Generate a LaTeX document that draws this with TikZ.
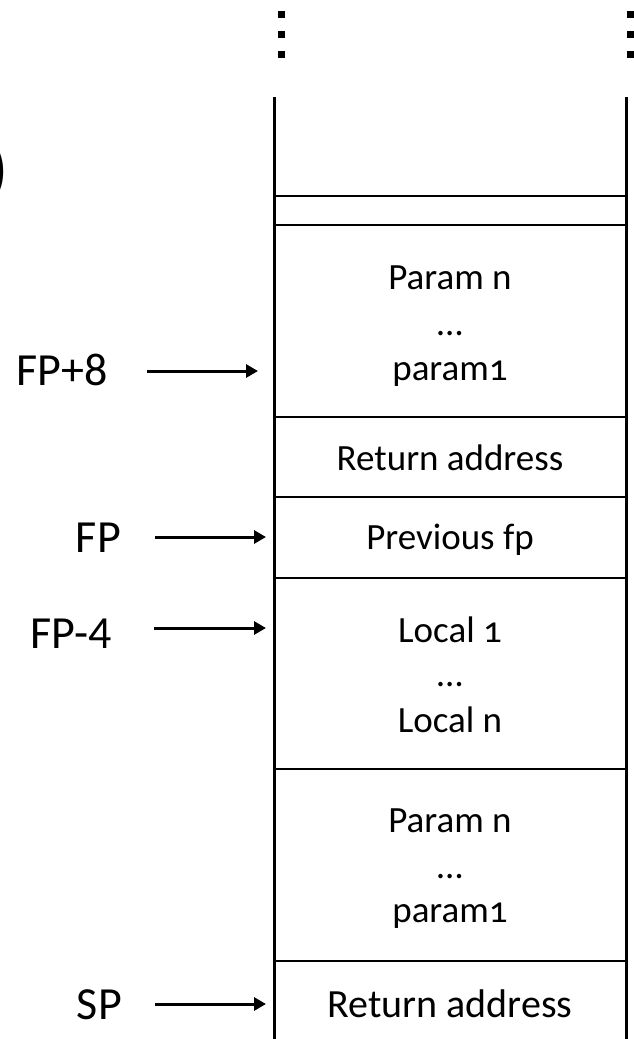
\documentclass[tikz,border=0pt]{standalone}
\usepackage{fontspec}
\setmainfont{Carlito}
\newfontfamily\cellfont[Numbers=OldStyle]{Carlito}
\usetikzlibrary{arrows.meta}
\begin{document}
\begin{tikzpicture}[x=1pt,y=-1pt,
  wall/.style={line width=3pt},
  sep/.style={line width=1.6pt},
  cell/.style={font=\cellfont\fontsize{37}{44}\selectfont, inner sep=0pt, anchor=base},
  bigcell/.style={font=\cellfont\fontsize{40}{48}\selectfont, inner sep=0pt, anchor=base},
  reg/.style={font=\fontsize{46}{50}\selectfont, inner sep=0pt, anchor=base east},
  ptr/.style={line width=3pt, -{Triangle[length=12pt,width=13pt]}},
  dotmark/.style={fill=black, draw=none, rectangle, minimum size=7pt, inner sep=0pt}]
\useasboundingbox (0,0) rectangle (634,1039);

% partial bracket at the left edge
\node[font=\fontsize{66}{66}\selectfont, inner sep=0pt, anchor=east] (paren) at (9,172) {)};

% continuation dots above the stack
\foreach \y [count=\i] in {14,34,54} {
  \node[dotmark] (dl\i) at (281,\y) {};
  \node[dotmark] (dr\i) at (630.5,\y) {};
}

% stack walls and cell separators
\coordinate (wlt) at (274,97);  \coordinate (wlb) at (274,1045);
\coordinate (wrt) at (626,97);  \coordinate (wrb) at (626,1045);
\draw[wall] (wlt) -- (wlb);
\draw[wall] (wrt) -- (wrb);
\foreach \y in {196,225,417,497,578,769,961}
  \draw[sep] (274,\y) -- (626,\y);

% caller's arguments
\node[cell] (pa1) at (450,289) {Param n};
\node[cell] (pa2) at (450,335) {…};
\node[cell] (pa3) at (450,380) {param1};
\node[cell] (ra1) at (450,470) {Return address};
\node[cell] (pfp) at (450,549) {Previous fp};
% locals
\node[cell] (lo1) at (450,642) {Local 1};
\node[cell] (lo2) at (450,686) {…};
\node[cell] (lo3) at (450,732) {Local n};
% outgoing arguments
\node[cell] (pb1) at (450,832) {Param n};
\node[cell] (pb2) at (450,878) {…};
\node[cell] (pb3) at (450,922) {param1};
\node[bigcell] (ra2) at (450,1017) {Return address};

% register labels and pointers
\node[reg] (fp8) at (108,385) {FP+8};
\node[reg] (fp)  at (121,552) {FP};
\node[reg] (fpm) at (112,648) {FP-4};
\node[reg] (sp)  at (122,1019) {SP};

\coordinate (fp8s) at (147,371);  \coordinate (fp8t) at (258,371);
\coordinate (fps)  at (155,537);  \coordinate (fpt)  at (266,537);
\coordinate (fpms) at (154,628);  \coordinate (fpmt) at (266,628);
\coordinate (sps)  at (155,1004); \coordinate (spt)  at (266,1004);
\draw[ptr] (fp8s) -- (fp8t);
\draw[ptr] (fps) -- (fpt);
\draw[ptr] (fpms) -- (fpmt);
\draw[ptr] (sps) -- (spt);
\end{tikzpicture}
\end{document}
